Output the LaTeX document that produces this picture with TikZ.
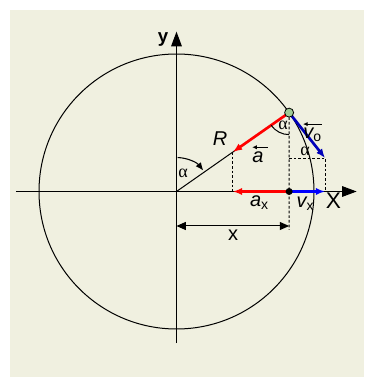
\documentclass[tikz,border=0pt]{standalone}
\usepackage{fontspec}
\setmainfont{Liberation Sans}
\newfontfamily\greekfont{Liberation Serif}
\usetikzlibrary{arrows.meta}
\definecolor{panel}{RGB}{240,240,224}
\definecolor{dotgreen}{RGB}{160,204,150}
\definecolor{vblue}{RGB}{0,0,185}

\begin{document}
\begin{tikzpicture}[x=0.75pt,y=0.75pt,
  axis/.style={line width=0.8pt,-{Triangle[length=11pt,width=8pt]}},
  vec/.style={line width=2pt,-{Latex[length=7pt,width=5.5pt]}},
  over/.style={line width=0.7pt,-{Latex[length=3.5pt,width=3.2pt]}},
  helper/.style={dash pattern=on 2pt off 1.5pt,line width=0.6pt},
  lbl/.style={inner sep=0pt,font=\fontsize{15}{17}\selectfont\itshape},
  txt/.style={inner sep=0pt,font=\fontsize{15}{17}\selectfont},
  ang/.style={inner sep=0pt,font=\greekfont\fontsize{13.5}{15}\selectfont}]
\useasboundingbox (-176.5,-186.5) rectangle (187.5,191.5);
\fill[panel] (-166.5,-185.5) rectangle (187.5,181.5);
% points
\coordinate (O) at (0,0);
\coordinate (P) at (35:137.5);
\coordinate (A) at (35:68.75);
\coordinate (Px) at (P |- O);
\coordinate (Ax) at (A |- O);
\coordinate (V) at (148.6,33.4);
\coordinate (Vx) at (V |- O);
\coordinate (Vc) at (P |- V);
\coordinate (Pd) at (112.6,-38.5);
\coordinate (xL) at (-160.5,0);
\coordinate (xR) at (180.2,0);
\coordinate (yB) at (0,-151.5);
\coordinate (yT) at (0,159.8);
\coordinate (dL) at (0,-34.5);
\coordinate (dR) at (Px |- dL);
% circle and axes
\draw[line width=0.75pt] (O) circle (137.5);
\draw[axis] (xL) -- (xR);
\draw[axis] (yB) -- (yT);
\draw[line width=0.75pt] (O) -- (P);
% projections
\draw[helper] (A) -- (Ax);
\draw[helper] (P) -- (Pd);
\draw[helper] (Vc) -- (V) -- (Vx);
% vectors
\draw[vec,red] (P) -- (A);
\draw[vec,red] (Px) -- (Ax);
\draw[vec,vblue] (P) -- (V);
\draw[vec,blue] (Px) -- (Vx);
% distance x
\draw[line width=0.75pt,{Triangle[length=7pt,width=6pt]}-{Triangle[length=7pt,width=6pt]}] (dL) -- (dR);
% angles
\draw[line width=0.75pt] (P) ++(215:22) arc (215:270:22);
\draw[line width=0.8pt,-{Latex[length=6pt,width=5pt]}] (O) ++(88:34) arc (88:38:34);
% dots
\fill (Px) circle (3.5);
\draw[line width=0.6pt,fill=dotgreen] (P) circle (4.5);
% labels
\node[txt,font=\fontsize{14}{16}\selectfont\bfseries] (ylbl) at (-13.5,151.5) {y};
\node[txt,font=\fontsize{17}{19}\selectfont] (Xlbl) at (157,-9) {X};
\node[lbl] (Rlbl) at (43.5,52.5) {R};
\node[lbl] (albl) at (81.5,34.5) {a};
\draw[over] ([xshift=3pt,yshift=3pt]albl.north east) -- ([xshift=0pt,yshift=3pt]albl.north west);
\node[lbl] (vlbl) at (136,57) {v\textsubscript{\upshape o}};
\draw[over] ([yshift=2.5pt]vlbl.north east) -- ([yshift=2.5pt]vlbl.north west);
\node[lbl] (axlbl) at (83,-11) {a\textsubscript{\upshape x}};
\node[lbl] (vxlbl) at (129,-12) {v\textsubscript{\upshape x}};
\node[txt] (xlbl) at (56.5,-44) {x};
\node[ang] (alP) at (106.5,66) {α};
\node[ang] (alV) at (128.5,40.5) {α};
\node[ang] (alO) at (6.5,18) {α};
\end{tikzpicture}
\end{document}
